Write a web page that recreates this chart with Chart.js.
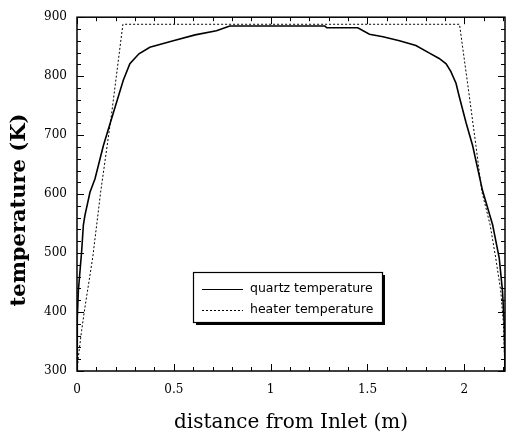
<!DOCTYPE html>
<html>
<head>
<meta charset="utf-8">
<script src="https://cdn.jsdelivr.net/npm/chart.js@4.4.1/dist/chart.umd.min.js"></script>
<style>
html, body { margin: 0; padding: 0; background: #fff; }
</style>
</head>
<body>
<canvas id="chart" width="506" height="437"></canvas>
<script>
// values
var quartzX = [0, 0.001, 0.002, 0.007, 0.024, 0.033, 0.041, 0.067, 0.093, 0.136, 0.187, 0.239, 0.273, 0.32, 0.376, 0.497, 0.61, 0.72, 0.789, 1.0, 1.28, 1.29, 1.45, 1.51, 1.58, 1.665, 1.75, 1.82, 1.87, 1.906, 1.93, 1.957, 1.974, 2.009, 2.043, 2.094, 2.146, 2.18, 2.197, 2.206, 2.21];
var quartzY = [300, 340, 390, 436, 503, 548, 564, 603, 626, 682, 737, 793, 821, 838, 849, 860, 870, 877, 885, 885, 885, 882, 882, 871, 867, 860, 852, 839, 830, 821, 808, 788, 765, 721, 682, 606, 548, 492, 436, 380, 300];
var heaterX = [0, 0.007, 0.024, 0.041, 0.081, 0.122, 0.179, 0.237, 1.975, 2.016, 2.06, 2.09, 2.133, 2.162, 2.188, 2.202, 2.21];
var heaterY = [300, 324, 369, 408, 492, 603, 737, 888, 888, 790, 682, 605, 548, 492, 436, 380, 300];
var xLabels = [0, 0.5, 1, 1.5, 2];
var yLabels = [300, 400, 500, 600, 700, 800, 900];
var seriesNames = ['quartz temperature', 'heater temperature'];
var yTitle = 'temperature (K)';

function toPoints(xs, ys) {
    var pts = [];
    for (var i = 0; i < xs.length; i++) {
        pts.push({x: xs[i], y: ys[i]});
    }
    return pts;
}

// inward ticks on all four sides, y title, boxed legend with shadow
var framePlugin = {
    id: 'frame',
    afterDraw: function(chart) {
        var ctx = chart.ctx, a = chart.chartArea;
        var xs = chart.scales.x, ys = chart.scales.y;
        ctx.save();
        ctx.strokeStyle = '#000';
        ctx.lineWidth = 1.5;
        ctx.strokeRect(a.left, a.top, a.right - a.left, a.bottom - a.top);
        ctx.lineWidth = 1;
        ctx.beginPath();
        for (var i = 0; i <= 22; i++) {
            var v = i / 10;
            var px = Math.round(xs.getPixelForValue(v)) + 0.5;
            var len = (i % 5 == 0) ? 7 : 4;
            ctx.moveTo(px, a.bottom); ctx.lineTo(px, a.bottom - len);
            ctx.moveTo(px, a.top); ctx.lineTo(px, a.top + len);
        }
        for (var t = 300; t <= 900; t += 20) {
            var py = Math.round(ys.getPixelForValue(t)) + 0.5;
            var l = (t % 100 == 0) ? 7 : 4;
            ctx.moveTo(a.left, py); ctx.lineTo(a.left + l, py);
            ctx.moveTo(a.right, py); ctx.lineTo(a.right - l, py);
        }
        ctx.stroke();

        // y axis title, sitting a bit below the plot centre as in the original
        ctx.save();
        ctx.translate(20, 210);
        ctx.rotate(-Math.PI / 2);
        ctx.font = 'bold 21px "DejaVu Serif"';
        ctx.fillStyle = '#000';
        ctx.textAlign = 'center';
        ctx.textBaseline = 'middle';
        ctx.fillText(yTitle, 0, 0);
        ctx.restore();

        // legend
        var bx = 193, by = 272, bw = 189, bh = 50;
        ctx.fillStyle = '#000';
        ctx.fillRect(bx + 3, by + 3, bw, bh);
        ctx.fillStyle = '#fff';
        ctx.fillRect(bx, by, bw, bh);
        ctx.lineWidth = 1.2;
        ctx.strokeRect(bx + 0.5, by + 0.5, bw, bh);
        ctx.font = '12.5px "DejaVu Sans"';
        ctx.fillStyle = '#000';
        ctx.textBaseline = 'middle';
        var rows = [289, 310];
        for (var k = 0; k < 2; k++) {
            ctx.beginPath();
            ctx.setLineDash(k == 0 ? [] : [2, 2]);
            ctx.lineWidth = 1;
            ctx.moveTo(202, rows[k] + 0.5);
            ctx.lineTo(243, rows[k] + 0.5);
            ctx.stroke();
            ctx.fillText(seriesNames[k], 250, rows[k]);
        }
        ctx.restore();
    }
};

var chart = new Chart(document.getElementById('chart'), {
    type: 'scatter',
    data: {
        datasets: [{
            label: seriesNames[0],
            data: toPoints(quartzX, quartzY),
            showLine: true,
            borderColor: '#000',
            borderWidth: 1.6,
            pointRadius: 0,
            tension: 0
        }, {
            label: seriesNames[1],
            data: toPoints(heaterX, heaterY),
            showLine: true,
            borderColor: '#000',
            borderWidth: 1,
            borderDash: [2, 2],
            pointRadius: 0,
            tension: 0
        }]
    },
    options: {
        responsive: false,
        devicePixelRatio: 1,
        animation: false,
        layout: {padding: {top: 13, right: 1, left: 0, bottom: 0}},
        plugins: {legend: {display: false}, tooltip: {enabled: false}},
        scales: {
            x: {
                type: 'linear', min: 0, max: 2.21,
                afterBuildTicks: function(s) { s.ticks = xLabels.map(function(v) { return {value: v}; }); },
                afterFit: function(s) { s.height = 66; },
                grid: {display: false, drawTicks: false},
                border: {display: false},
                ticks: {
                    padding: 12, color: '#000',
                    font: {family: '"DejaVu Serif"', size: 12},
                    callback: function(v) { return String(v); }
                },
                title: {
                    display: true, text: 'distance from Inlet (m)', color: '#000',
                    font: {family: '"DejaVu Serif"', size: 20},
                    padding: {top: 0, bottom: 2}
                }
            },
            y: {
                type: 'linear', min: 300, max: 900,
                afterBuildTicks: function(s) { s.ticks = yLabels.map(function(v) { return {value: v}; }); },
                afterFit: function(s) { s.width = 77; },
                grid: {display: false, drawTicks: false},
                border: {display: false},
                ticks: {
                    padding: 10, color: '#000',
                    font: {family: '"DejaVu Serif"', size: 12},
                    callback: function(v) { return String(v); }
                },
                title: {display: false}
            }
        }
    },
    plugins: [framePlugin]
});
</script>
</body>
</html>
